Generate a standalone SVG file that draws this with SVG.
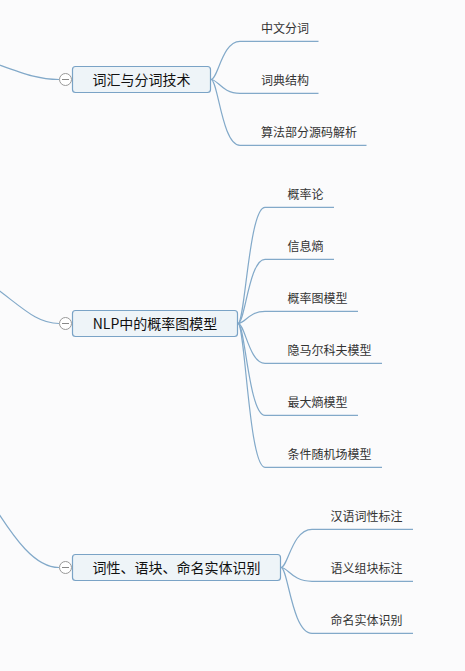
<svg xmlns="http://www.w3.org/2000/svg" width="465" height="671" viewBox="0 0 465 671">
<style>
.bg{fill:#fbfbfc}
.ln{fill:none;stroke:#82a9c9;stroke-width:1.2}
.box{fill:#eef4f8;stroke:#7aa3c6;stroke-width:1.2}
.col{fill:#fff;stroke:#999;stroke-width:1}
.minus{stroke:#888;stroke-width:1}
.mt{font-family:"Noto Sans CJK SC","Microsoft YaHei",sans-serif;font-size:14px;fill:#111;text-anchor:middle}
.st{font-family:"Noto Sans CJK SC","Microsoft YaHei",sans-serif;font-size:12px;fill:#333}
</style>
<rect class="bg" x="0" y="0" width="465" height="671"/>
<g id="connectors">
  <path class="ln" d="M-20,58 C20,72 35,79.5 59,79.5"/>
  <path class="ln" d="M-10,284 C20,305 35,323.5 59,323.5"/>
  <path class="ln" d="M-10,500 C15,540 35,567.5 59,567.5"/>
  <path class="ln" d="M211,79.5 C218,79.5 222,41.3 240,41.3 H318.5"/>
  <path class="ln" d="M211,79.5 C218,79.5 222,93.3 240,93.3 H318.5"/>
  <path class="ln" d="M211,79.5 C218,79.5 222,145.3 240,145.3 H366.5"/>
  <path class="ln" d="M238,323.5 C245,323.5 249,207.3 265,207.3 H334"/>
  <path class="ln" d="M238,323.5 C245,323.5 249,259.3 265,259.3 H334"/>
  <path class="ln" d="M238,323.5 C245,323.5 249,311.3 265,311.3 H358"/>
  <path class="ln" d="M238,323.5 C245,323.5 249,363.3 265,363.3 H382"/>
  <path class="ln" d="M238,323.5 C245,323.5 249,415.3 265,415.3 H358"/>
  <path class="ln" d="M238,323.5 C245,323.5 249,467.3 265,467.3 H382"/>
  <path class="ln" d="M281,567.5 C288,567.5 292,529.3 312,529.3 H413"/>
  <path class="ln" d="M281,567.5 C288,567.5 292,581.3 312,581.3 H413"/>
  <path class="ln" d="M281,567.5 C288,567.5 292,633.3 312,633.3 H413"/>
</g>
<g id="n1">
  <rect class="box" x="72.5" y="66.5" width="138" height="26" rx="3"/>
  <circle class="col" cx="65.5" cy="79.5" r="6"/>
  <line class="minus" x1="62" y1="79.5" x2="69" y2="79.5"/>
  <text class="mt" x="141.5" y="85">词汇与分词技术</text>
</g>
<g id="n1a"><text class="st" x="261" y="33">中文分词</text></g>
<g id="n1b"><text class="st" x="261" y="85">词典结构</text></g>
<g id="n1c"><text class="st" x="261" y="137">算法部分源码解析</text></g>
<g id="n2">
  <rect class="box" x="72.5" y="310.5" width="165" height="26" rx="3"/>
  <circle class="col" cx="65.5" cy="323.5" r="6"/>
  <line class="minus" x1="62" y1="323.5" x2="69" y2="323.5"/>
  <text class="mt" x="155" y="329">NLP中的概率图模型</text>
</g>
<g id="n2a"><text class="st" x="287.5" y="199">概率论</text></g>
<g id="n2b"><text class="st" x="287.5" y="251">信息熵</text></g>
<g id="n2c"><text class="st" x="287.5" y="303">概率图模型</text></g>
<g id="n2d"><text class="st" x="287.5" y="355">隐马尔科夫模型</text></g>
<g id="n2e"><text class="st" x="287.5" y="407">最大熵模型</text></g>
<g id="n2f"><text class="st" x="287.5" y="459">条件随机场模型</text></g>
<g id="n3">
  <rect class="box" x="72.5" y="554.5" width="208" height="26" rx="3"/>
  <circle class="col" cx="65.5" cy="567.5" r="6"/>
  <line class="minus" x1="62" y1="567.5" x2="69" y2="567.5"/>
  <text class="mt" x="176.5" y="573">词性、语块、命名实体识别</text>
</g>
<g id="n3a"><text class="st" x="330.5" y="521">汉语词性标注</text></g>
<g id="n3b"><text class="st" x="330.5" y="573">语义组块标注</text></g>
<g id="n3c"><text class="st" x="330.5" y="625">命名实体识别</text></g>
</svg>
